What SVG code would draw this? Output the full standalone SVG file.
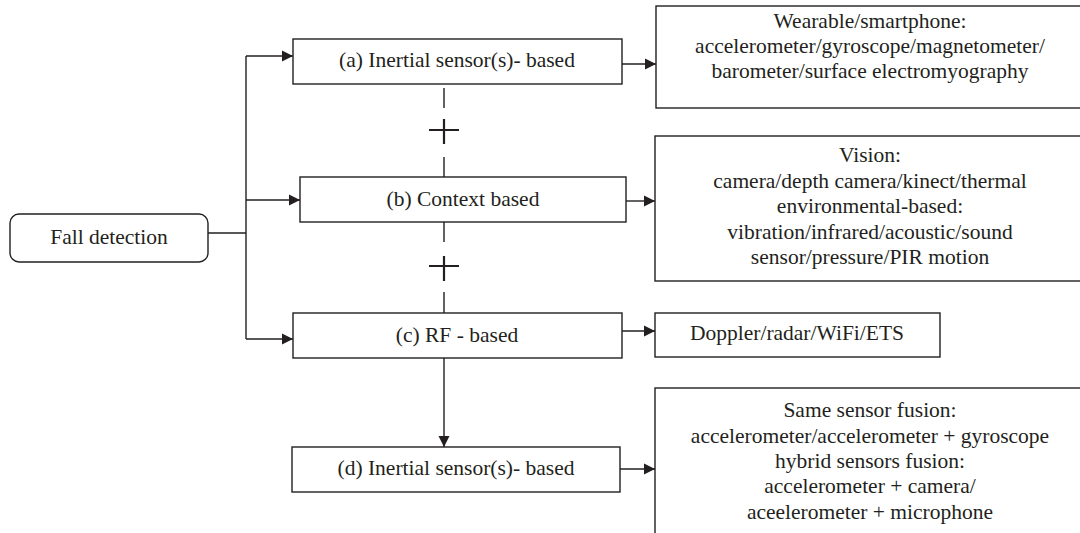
<svg xmlns="http://www.w3.org/2000/svg" width="1080" height="533" viewBox="0 0 1080 533">
<defs>
<marker id="arr" markerWidth="12" markerHeight="12" viewBox="0 0 12 12" refX="11" refY="6" orient="auto" markerUnits="userSpaceOnUse">
<path d="M0,0.5 L11,6 L0,11.5 Z" fill="#231f20"/>
</marker>
<style>
.box{fill:#fff;stroke:#231f20;stroke-width:1.4}
.t{font-family:"Liberation Serif","Times New Roman",serif;font-size:21.5px;fill:#231f20;text-anchor:middle}
.c{fill:none;stroke:#231f20;stroke-width:1.4}
.p{fill:none;stroke:#231f20;stroke-width:2.2}
</style>
</defs>
<rect width="1080" height="533" fill="#fff"/>
<g id="connectors">
<path class="c" d="M208,233 H246"/>
<path class="c" d="M246,56 V339"/>
<path class="c" d="M246,56 H293" marker-end="url(#arr)"/>
<path class="c" d="M246,200 H300" marker-end="url(#arr)"/>
<path class="c" d="M246,339 H293" marker-end="url(#arr)"/>
<path class="c" d="M622,64 H656" marker-end="url(#arr)"/>
<path class="c" d="M626,201 H655" marker-end="url(#arr)"/>
<path class="c" d="M622,331 H655" marker-end="url(#arr)"/>
<path class="c" d="M620,469 H655" marker-end="url(#arr)"/>
<path class="c" d="M444,358 V447" marker-end="url(#arr)"/>
<path class="c" d="M444,88 V108 M444,157 V177 M444,222 V242 M444,292 V313"/>
<path class="p" d="M444,119 V144 M429,130 H459 M444,256 V281 M429,266 H459"/>
</g>
<g id="fall-detection">
<rect class="box" x="10" y="214" width="198" height="48" rx="9"/>
<text class="t" x="109" y="244">Fall detection</text>
</g>
<g id="node-a">
<rect class="box" x="293" y="39" width="329" height="45"/>
<text class="t" x="457" y="67">(a) Inertial sensor(s)- based</text>
</g>
<g id="node-b">
<rect class="box" x="300" y="177" width="326" height="45"/>
<text class="t" x="463" y="206">(b) Context based</text>
</g>
<g id="node-c">
<rect class="box" x="293" y="313" width="329" height="45"/>
<text class="t" x="457" y="342">(c) RF - based</text>
</g>
<g id="node-d">
<rect class="box" x="292" y="447" width="328" height="45"/>
<text class="t" x="456" y="475">(d) Inertial sensor(s)- based</text>
</g>
<g id="detail-a">
<rect class="box" x="656" y="6" width="430" height="102"/>
<text class="t" x="870" y="28">Wearable/smartphone:</text>
<text class="t" x="870" y="53">accelerometer/gyroscope/magnetometer/</text>
<text class="t" x="870" y="78">barometer/surface electromyography</text>
</g>
<g id="detail-b">
<rect class="box" x="655" y="136" width="430" height="145"/>
<text class="t" x="870" y="162">Vision:</text>
<text class="t" x="870" y="188">camera/depth camera/kinect/thermal</text>
<text class="t" x="870" y="213">environmental-based:</text>
<text class="t" x="870" y="239">vibration/infrared/acoustic/sound</text>
<text class="t" x="870" y="264">sensor/pressure/PIR motion</text>
</g>
<g id="detail-c">
<rect class="box" x="655" y="313" width="285" height="44"/>
<text class="t" x="797" y="340">Doppler/radar/WiFi/ETS</text>
</g>
<g id="detail-d">
<rect class="box" x="655" y="388" width="430" height="160"/>
<text class="t" x="870" y="417">Same sensor fusion:</text>
<text class="t" x="870" y="443">accelerometer/accelerometer + gyroscope</text>
<text class="t" x="870" y="468">hybrid sensors fusion:</text>
<text class="t" x="870" y="493">accelerometer + camera/</text>
<text class="t" x="870" y="519">aceelerometer + microphone</text>
</g>
</svg>
